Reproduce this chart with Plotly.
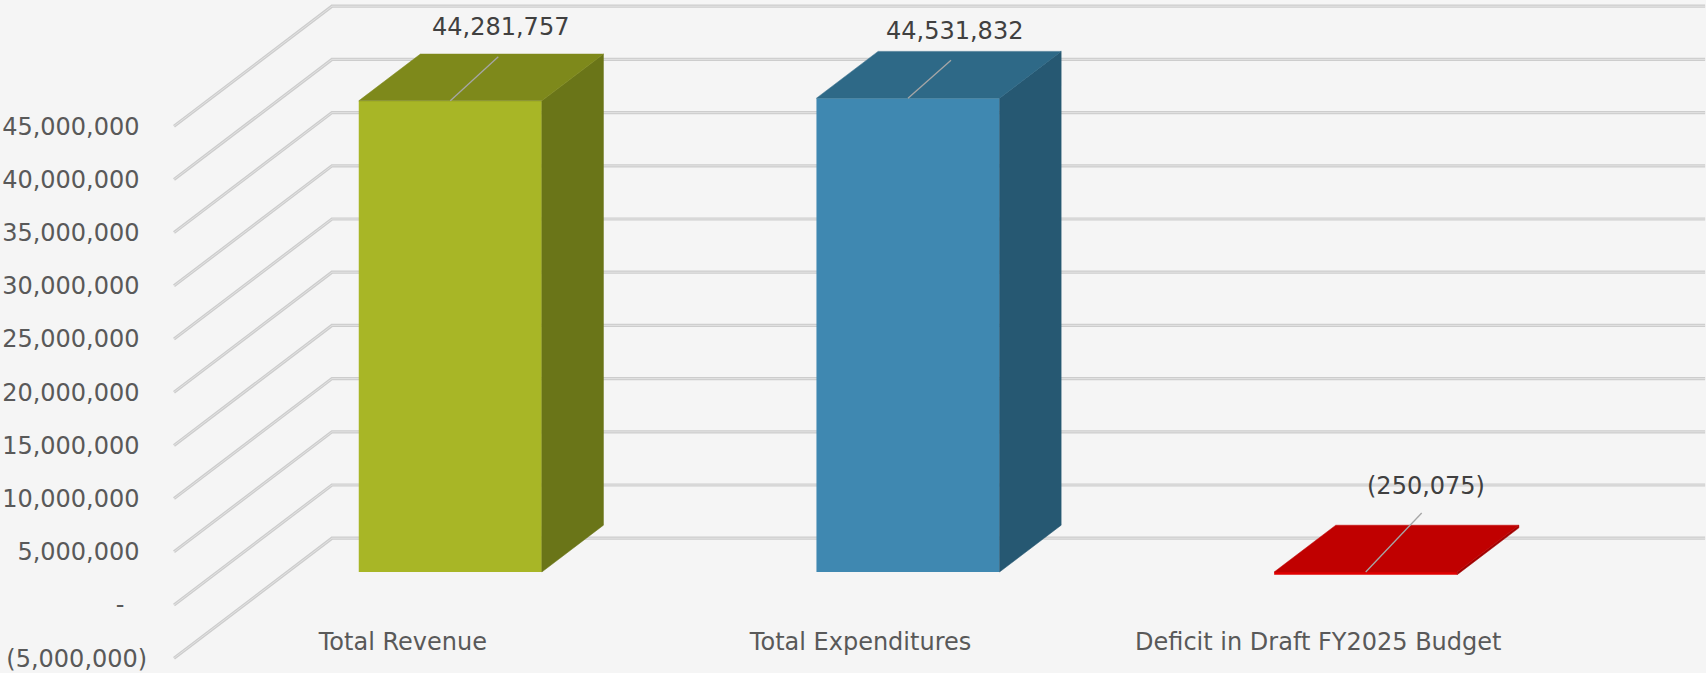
import plotly.graph_objects as go

# ---------------- data ----------------
categories = ["Total Revenue", "Total Expenditures", "Deficit in Draft FY2025 Budget"]
values = [44281757, 44531832, -250075]
value_labels = ["44,281,757", "44,531,832", "(250,075)"]
tick_values = [-5000000, 0, 5000000, 10000000, 15000000, 20000000,
               25000000, 30000000, 35000000, 40000000, 45000000]
tick_labels = ["(5,000,000)", "-\u00a0\u00a0\u00a0", "5,000,000\u00a0", "10,000,000\u00a0",
               "15,000,000\u00a0", "20,000,000\u00a0", "25,000,000\u00a0", "30,000,000\u00a0",
               "35,000,000\u00a0", "40,000,000\u00a0", "45,000,000\u00a0"]

# ---------------- style ----------------
front_colors = ["#A8B626", "#3F88B1", "#E00000"]
top_colors = ["#7E891B", "#2E6987", "#C00000"]
side_colors = ["#6A7518", "#265872", "#A00000"]
BG = "#F5F5F5"
FONT = "DejaVu Sans"

W, H = 1706, 673
L_MARGIN = 172
PX_PER_CAT = 457.7
PX_PER_VAL = 53.2 / 5e6
Y_ZERO_PX = 605
x_lo = -0.5
x_hi = x_lo + (W - L_MARGIN) / PX_PER_CAT
y_hi = Y_ZERO_PX / PX_PER_VAL
y_lo = -(H - Y_ZERO_PX) / PX_PER_VAL

DX = 158 / PX_PER_CAT          # depth offset in data units (x)
DY = 120 / PX_PER_VAL          # depth offset in data units (y)
D_FRONT, D_BACK = 0.275, 0.665
BAR_XADJ = 4 / PX_PER_CAT      # small horizontal nudge of the bar block
CAT_XADJ = 2 / PX_PER_CAT
BAR_W = 0.4

# label / leader offsets in pixels
label_off = [(50, -74), (46, -67), (60, -86)]
leader_off = [(48, -44), (43, -38), (56, -59)]

fig = go.Figure()

# ---- gridlines (floor-to-back-wall) as shapes below traces ----
shapes = []
for t in tick_values:
    path = (f"M {x_lo},{t} L {x_lo + DX},{t + DY} L {2.5 + DX},{t + DY}")
    shapes.append(dict(type="path", path=path, xref="x", yref="y", layer="below",
                       line=dict(color="#CDCDCD", width=3.2)))
    shapes.append(dict(type="path", path=path, xref="x", yref="y", layer="below",
                       line=dict(color="#E2E2E2", width=1)))

# ---- front faces ----
xs_front = [i + D_FRONT * DX + BAR_XADJ for i in range(len(values))]
fig.add_trace(go.Bar(
    x=xs_front, y=values, base=[D_FRONT * DY] * len(values), width=BAR_W,
    marker=dict(color=front_colors, line=dict(width=0)),
    hoverinfo="skip", showlegend=False))

# ---- top and side faces ----
sx = (D_BACK - D_FRONT) * DX
b1 = D_FRONT * DY
b2 = D_BACK * DY
for i, v in enumerate(values):
    xl = xs_front[i] - BAR_W / 2
    xr = xs_front[i] + BAR_W / 2
    top = max(v, 0)
    bot = min(v, 0)
    fig.add_trace(go.Scatter(
        x=[xr, xr, xr + sx, xr + sx, xr],
        y=[bot + b1, top + b1, top + b2, bot + b2, bot + b1],
        fill="toself", fillcolor=side_colors[i], mode="lines",
        line=dict(color=side_colors[i], width=0.5),
        hoverinfo="skip", showlegend=False))
    fig.add_trace(go.Scatter(
        x=[xl, xr, xr + sx, xl + sx, xl],
        y=[top + b1, top + b1, top + b2, top + b2, top + b1],
        fill="toself", fillcolor=top_colors[i], mode="lines",
        line=dict(color=top_colors[i], width=0.5),
        hoverinfo="skip", showlegend=False))
    # leader line
    ox, oy = leader_off[i]
    fig.add_trace(go.Scatter(
        x=[xs_front[i], xs_front[i] + ox / PX_PER_CAT],
        y=[top + b1, top + b1 - oy / PX_PER_VAL],
        mode="lines", line=dict(color="#A6A6A6", width=1.3),
        hoverinfo="skip", showlegend=False))

annotations = []
for i, v in enumerate(values):
    top = max(v, 0)
    lx, ly = label_off[i]
    annotations.append(dict(
        x=xs_front[i], y=top + b1, xref="x", yref="y", text=value_labels[i],
        showarrow=False, xshift=lx, yshift=-ly,
        font=dict(family=FONT, size=24, color="#404040")))

fig.update_layout(
    width=W, height=H,
    margin=dict(l=L_MARGIN, r=0, t=0, b=0, pad=0),
    paper_bgcolor=BG, plot_bgcolor=BG,
    shapes=shapes, annotations=annotations,
    hovermode=False, showlegend=False,
    xaxis=dict(range=[x_lo - CAT_XADJ, x_hi - CAT_XADJ], tickvals=[0, 1, 2], ticktext=categories,
               anchor="free", position=0.071, showgrid=False, zeroline=False,
               showline=False, ticks="",
               tickfont=dict(family=FONT, size=24, color="#595959")),
    yaxis=dict(range=[y_lo, y_hi], tickvals=tick_values, ticktext=tick_labels,
               showgrid=False, zeroline=False, showline=False,
               ticks="outside", ticklen=19, tickcolor=BG,
               tickfont=dict(family=FONT, size=24, color="#595959")),
)

fig.write_html("out.html")
